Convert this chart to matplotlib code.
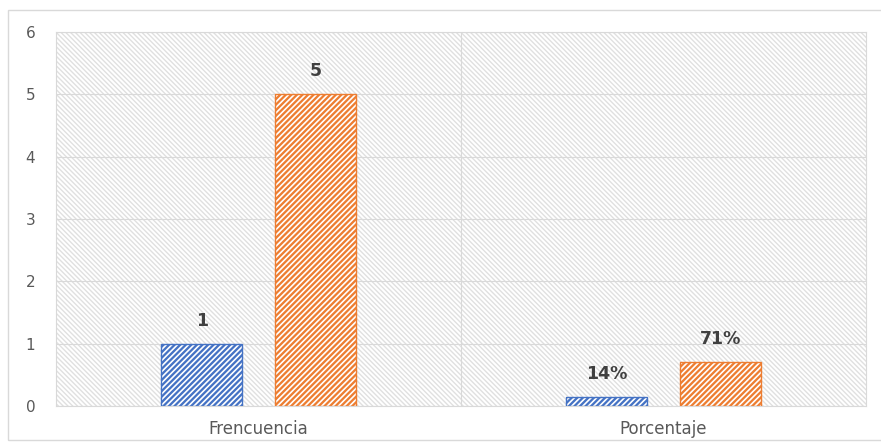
import matplotlib
matplotlib.use("Agg")
import matplotlib.pyplot as plt
from matplotlib.patches import Rectangle
import numpy as np

categories = ["Frencuencia", "Porcentaje"]
serie_a = [1, 0.14]
serie_b = [5, 0.71]
labels_a = ["1", "14%"]
labels_b = ["5", "71%"]
y_ticks = [0, 1, 2, 3, 4, 5, 6]

blue = "#4472C4"
orange = "#ED7D31"
text_grey = "#595959"

plt.rcParams["font.family"] = ["DejaVu Sans"]

fig = plt.figure(figsize=(8.81, 4.45), dpi=100)
# outer chart frame
fig.patches.append(Rectangle((8 / 881, 5 / 445), 880 / 881, 430 / 445,
                             transform=fig.transFigure, fill=False,
                             edgecolor="#D9D9D9", linewidth=1.0))

ax = fig.add_axes([56 / 881, 39 / 445, 810 / 881, 374 / 445])
ax.set_xlim(-0.5, 1.5)
ax.set_ylim(0, 6)

# hatched plot-area background
bg = Rectangle((0, 0), 1, 1, transform=ax.transAxes,
               facecolor="white", edgecolor="#E0E0E0",
               hatch="\\" * 7, linewidth=0, zorder=0)
if hasattr(bg, "set_hatch_linewidth"):
    bg.set_hatch_linewidth(1.0)
ax.add_patch(bg)

for y in y_ticks:
    ax.axhline(y, color="#D9D9D9", linewidth=0.8, zorder=1)
ax.axvline(0.5, color="#D9D9D9", linewidth=0.8, zorder=1)

x = np.arange(len(categories))
w = 0.2
off = 0.14
for vals, col, offset, labs in ((serie_a, blue, -off, labels_a),
                                (serie_b, orange, off, labels_b)):
    fills = ax.bar(x + offset, vals, w, color=col, edgecolor="white",
                   hatch="/" * 6, linewidth=0, zorder=2)
    for p in fills:
        if hasattr(p, "set_hatch_linewidth"):
            p.set_hatch_linewidth(1.2)
    bars = ax.bar(x + offset, vals, w, fill=False, edgecolor=col,
                  linewidth=1.0, zorder=3)
    for b, lab in zip(bars, labs):
        ax.annotate(lab, (b.get_x() + b.get_width() / 2, b.get_height()),
                    xytext=(0, 10), textcoords="offset points",
                    ha="center", va="bottom", fontsize=12.5,
                    fontweight="bold", color="#404040")

for s in ax.spines.values():
    s.set_color("#D9D9D9")
    s.set_linewidth(0.8)

ax.set_yticks(y_ticks)
ax.set_yticklabels([str(t) for t in y_ticks])
ax.set_xticks(x)
ax.set_xticklabels(categories)
ax.tick_params(axis="y", length=0, pad=15, labelsize=11, labelcolor=text_grey)
ax.tick_params(axis="x", length=0, pad=10, labelsize=12, labelcolor=text_grey)

fig.savefig("out.png", dpi=100)
